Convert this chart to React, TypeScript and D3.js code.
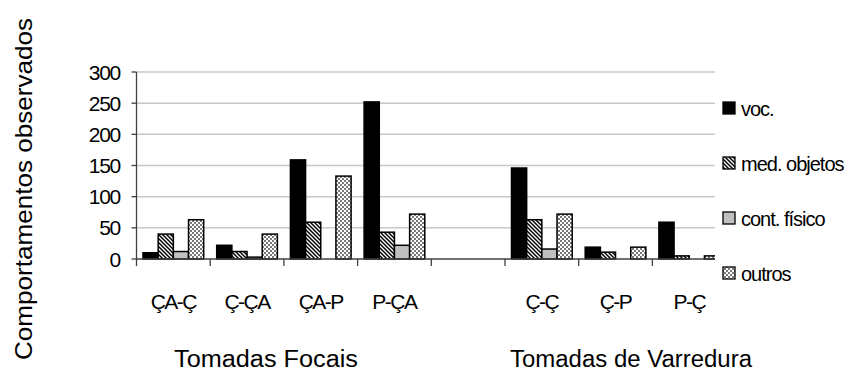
import React from "react";
import * as d3 from "d3";

const categories = ["ÇA-Ç", "Ç-ÇA", "ÇA-P", "P-ÇA", "", "Ç-Ç", "Ç-P", "P-Ç"];
const seriesNames = ["voc.", "med. objetos", "cont. físico", "outros"];
const voc = [10, 22, 159, 252, 0, 146, 19, 59];
const medObjetos = [40, 12, 59, 43, 0, 63, 11, 5];
const contFisico = [12, 3, 0, 22, 0, 16, 0, 0];
const outros = [63, 40, 133, 72, 0, 72, 19, 5];
const yTicks = [0, 50, 100, 150, 200, 250, 300];
const groupLabels = ["Tomadas Focais", "Tomadas de Varredura"];
const yTitle = "Comportamentos observados";

const series = [voc, medObjetos, contFisico, outros];
const fills = ["#000000", "url(#hatch)", "#c0c0c0", "url(#checker)"];

export default function App() {
  const W = 855, H = 374;
  const x0 = 136.5;
  const catW = 73.7;
  const plotRight = 715;
  const x = d3.scaleBand<string>()
    .domain(categories.map((_, i) => String(i)))
    .range([x0, x0 + catW * categories.length])
    .paddingInner(0).paddingOuter(0);
  const xs = d3.scaleBand<string>()
    .domain(seriesNames)
    .range([6.5, catW - 6.5])
    .padding(0);
  const y = d3.scaleLinear().domain([0, 300]).range([259, 72]);
  const font = "'Liberation Sans', Arial, sans-serif";

  const legendY = d3.scalePoint<string>().domain(seriesNames).range([108.5, 273.5]);

  return (
    <svg width={W} height={H} style={{ position: "absolute", left: 0, top: 0, background: "#fff" }}>
      <defs>
        <pattern id="hatch" width="4" height="4" patternUnits="userSpaceOnUse">
          <rect width="4" height="4" fill="#ffffff" />
          <path d="M0,0 L4,4 M-1,3 L1,5 M3,-1 L5,1" stroke="#000" strokeWidth="1.5" />
        </pattern>
        <pattern id="checker" width="4" height="4" patternUnits="userSpaceOnUse">
          <rect width="4" height="4" fill="#ffffff" />
          <rect x="0" y="0" width="2" height="2" fill="#7a7a7a" />
          <rect x="2" y="2" width="2" height="2" fill="#7a7a7a" />
        </pattern>
        <clipPath id="plotClip">
          <rect x={x0 - 2} y={0} width={plotRight - x0 + 2} height={H} />
        </clipPath>
      </defs>

      {/* gridlines */}
      {yTicks.filter(t => t > 0).map(t => (
        <line key={"g" + t} x1={x0} x2={plotRight} y1={y(t)} y2={y(t)} stroke="#c8c8c8" strokeWidth={1.5} />
      ))}

      {/* bars */}
      <g clipPath="url(#plotClip)">
        {categories.map((c, i) =>
          series.map((vals, s) => {
            const v = vals[i];
            if (!v) return null;
            const bx = (x(String(i)) as number) + (xs(seriesNames[s]) as number);
            return (
              <rect key={i + "-" + s} x={bx} y={y(v)} width={xs.bandwidth()} height={y(0) - y(v)}
                fill={fills[s]} stroke="#000" strokeWidth={1.5} />
            );
          })
        )}
      </g>

      {/* y axis */}
      <line x1={x0} x2={x0} y1={y(300)} y2={y(0)} stroke="#404040" strokeWidth={1.3} />
      {yTicks.map(t => (
        <g key={"t" + t}>
          <line x1={x0 - 5} x2={x0} y1={y(t)} y2={y(t)} stroke="#404040" strokeWidth={1.3} />
          <text x={120} y={y(t) + 7.5} textAnchor="end" fontFamily={font} fontSize={21} fill="#000" letterSpacing={-1.3}>{t}</text>
        </g>
      ))}

      {/* x axis */}
      <line x1={x0} x2={plotRight} y1={y(0)} y2={y(0)} stroke="#404040" strokeWidth={1.3} />
      {categories.map((c, i) => (
        <line key={"xt" + i} x1={x(String(i))} x2={x(String(i))} y1={y(0)} y2={y(0) + 7} stroke="#404040" strokeWidth={1.3} />
      ))}
      {categories.map((c, i) => c ? (
        <text key={"xl" + i} x={(x(String(i)) as number) + catW / 2} y={309} textAnchor="middle"
          fontFamily={font} fontSize={21} fill="#000" letterSpacing={-1.5}>{c}</text>
      ) : null)}

      {/* group labels */}
      <text x={266} y={367} textAnchor="middle" fontFamily={font} fontSize={23} fill="#000"
        textLength={184} lengthAdjust="spacingAndGlyphs">{groupLabels[0]}</text>
      <text x={631} y={367} textAnchor="middle" fontFamily={font} fontSize={23} fill="#000"
        textLength={242} lengthAdjust="spacingAndGlyphs">{groupLabels[1]}</text>

      {/* y title */}
      <text transform={`translate(32,189) rotate(-90)`} textAnchor="middle" fontFamily={font} fontSize={24}
        fill="#000" textLength={342} lengthAdjust="spacingAndGlyphs">{yTitle}</text>

      {/* legend */}
      {seriesNames.map((n, s) => {
        const cy = legendY(n) as number;
        return (
          <g key={"l" + n}>
            <rect x={723} y={cy - 6.5} width={12} height={12} fill={fills[s]} stroke="#000" strokeWidth={1.3} />
            <text x={741} y={cy + 7} fontFamily={font} fontSize={20} fill="#000" letterSpacing={-1}>{n}</text>
          </g>
        );
      })}
    </svg>
  );
}
